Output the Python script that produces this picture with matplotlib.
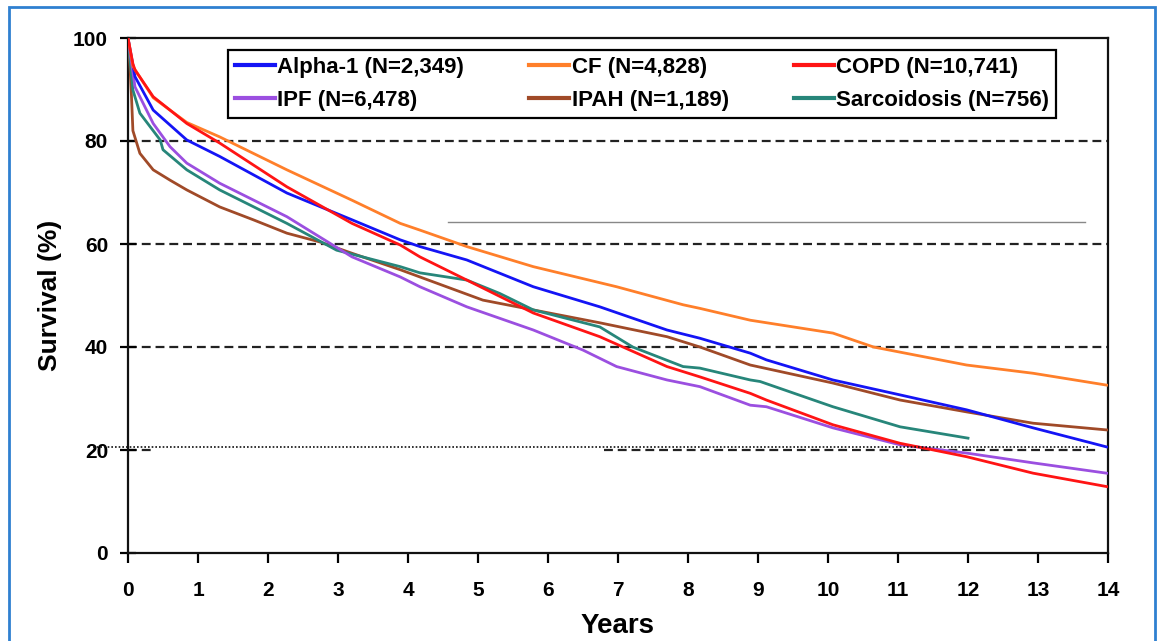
import matplotlib
matplotlib.use("Agg")
import matplotlib.pyplot as plt
from matplotlib.patches import Rectangle
from matplotlib.lines import Line2D

# ---- data ----
alpha_x = [0, 0.1, 0.36, 0.84, 1.31, 2.27, 3.2, 3.89, 4.17, 4.84, 5.79, 6.74, 7.7, 8.17, 8.89, 9.12, 10.07, 11.03, 11.98, 12.93, 13.98]
alpha_y = [100, 92.5, 86, 80.2, 77, 69.9, 64.7, 60.8, 59.5, 56.9, 51.7, 47.8, 43.3, 41.7, 38.8, 37.5, 33.6, 30.7, 27.8, 24.3, 20.6]

cf_x = [0, 0.07, 0.36, 0.84, 1.31, 2.27, 3.2, 3.89, 4.17, 4.84, 5.79, 6.98, 7.93, 8.17, 8.89, 10.07, 10.65, 11.98, 12.93, 13.98]
cf_y = [100, 94.5, 88.4, 83.6, 80.8, 74.4, 68.5, 64, 62.7, 59.5, 55.6, 51.7, 48.2, 47.5, 45.2, 42.7, 40, 36.5, 34.9, 32.6]

copd_x = [0, 0.07, 0.1, 0.36, 0.84, 1.31, 2.27, 3.2, 3.89, 4.17, 4.84, 5.79, 6.74, 7.7, 8.17, 8.89, 9.12, 10.07, 11.03, 11.98, 12.93, 13.98]
copd_y = [100, 95, 93.8, 88.6, 83.4, 79.6, 71.1, 64, 59.8, 57.5, 53, 46.6, 42, 36.2, 34.2, 31, 29.7, 24.9, 21.3, 18.7, 15.5, 12.9]

ipf_x = [0, 0.1, 0.36, 0.6, 0.84, 1.31, 2.27, 3.2, 3.89, 4.17, 4.84, 5.79, 6.5, 6.98, 7.7, 8.17, 8.89, 9.12, 10.07, 11.03, 11.98, 12.93, 13.98]
ipf_y = [100, 90.5, 83.4, 78.9, 75.7, 71.8, 65.3, 57.5, 53.6, 51.7, 47.8, 43.3, 39.4, 36.2, 33.6, 32.3, 28.7, 28.4, 24.3, 21, 19.4, 17.5, 15.5]

ipah_x = [0, 0.03, 0.05, 0.07, 0.17, 0.36, 0.6, 0.84, 1.31, 1.79, 2.27, 2.74, 3.2, 3.89, 4.17, 5.07, 5.79, 6.74, 7.7, 8.17, 8.89, 10.07, 11.03, 11.98, 12.93, 13.98]
ipah_y = [100, 94, 88.6, 82, 77.6, 74.4, 72.4, 70.5, 67.2, 64.7, 62.1, 60.4, 58.2, 55, 53.6, 49.1, 47.2, 44.7, 42, 40, 36.5, 33, 29.7, 27.4, 25.2, 23.9]

sarc_x = [0, 0.07, 0.17, 0.46, 0.5, 0.84, 1.31, 2.27, 2.98, 3.89, 4.17, 4.84, 5.31, 5.79, 6.74, 7.21, 7.93, 8.17, 8.89, 9.03, 10.07, 11.03, 12.0]
sarc_y = [100, 89.9, 85.4, 80.2, 78.3, 74.4, 70.5, 64, 58.8, 55.6, 54.4, 53, 50.4, 47.2, 43.9, 40, 36.2, 35.9, 33.6, 33.3, 28.4, 24.5, 22.3]

labels = ["Alpha-1 (N=2,349)", "CF (N=4,828)", "COPD (N=10,741)",
          "IPF (N=6,478)", "IPAH (N=1,189)", "Sarcoidosis (N=756)"]
colors = ["#1414f5", "#ff7f2a", "#ff1414", "#9b4fe0", "#a04a28", "#27867a"]
series_x = [alpha_x, cf_x, copd_x, ipf_x, ipah_x, sarc_x]
series_y = [alpha_y, cf_y, copd_y, ipf_y, ipah_y, sarc_y]

xticks = list(range(0, 15))
yticks = [0, 20, 40, 60, 80, 100]

plt.rcParams['font.family'] = ['Liberation Sans', 'DejaVu Sans']
plt.rcParams['font.weight'] = 'bold'

fig = plt.figure(figsize=(11.62, 6.41), dpi=100)
W, H = 1162, 641
ax = fig.add_axes([128 / W, 1 - 553 / H, (1108 - 128) / W, (553 - 38) / H])

# grid lines
grid_kw = dict(color="#222222", lw=1.6, ls=(0, (4, 2.2)), zorder=1)
for g in [40, 60, 80]:
    ax.axhline(g, **grid_kw)
ax.plot([0, 0.33], [20, 20], **grid_kw)
ax.plot([6.8, 13.87], [20, 20], **grid_kw)

# series
order = [0, 3, 1, 4, 2, 5]
handles = {}
for i in [4, 5, 3, 0, 1, 2]:
    h, = ax.plot(series_x[i], series_y[i], color=colors[i], lw=2.0, label=labels[i], zorder=3)
    handles[i] = h

ax.set_xlim(0, 14)
ax.set_ylim(0, 100)
ax.set_xticks(xticks)
ax.set_yticks(yticks)
ax.tick_params(axis='x', direction='out', length=7.2, width=1.6, labelsize=15, pad=13)
ax.tick_params(axis='y', direction='inout', length=11.5, width=1.6, labelsize=15, pad=8.6)
for lab in ax.get_xticklabels() + ax.get_yticklabels():
    lab.set_fontweight('bold')
for s in ax.spines.values():
    s.set_linewidth(1.6)
    s.set_color("#111111")

ax.set_xlabel("Years", fontsize=20, fontweight='bold', labelpad=9)
ax.set_ylabel("Survival (%)", fontsize=19, fontweight='bold', labelpad=8)

leg = ax.legend([handles[i] for i in order], [labels[i] for i in order],
                ncol=3, loc='upper left', bbox_to_anchor=((228 - 128) / 980, 1 - (50 - 38) / 515),
                frameon=True, fancybox=False, edgecolor='black', framealpha=1,
                handlelength=1.8, handletextpad=0.1, columnspacing=2.95,
                borderpad=0.3, labelspacing=0.55, borderaxespad=0,
                prop={'family': ['Liberation Sans', 'DejaVu Sans'], 'weight': 'bold', 'size': 16})
leg.get_frame().set_linewidth(1.6)
for lh in leg.legend_handles:
    lh.set_linewidth(3)

# artifacts present in the reference image
fig.add_artist(Line2D([448 / W, 1085 / W], [1 - 222 / H, 1 - 222 / H], color="#888888", lw=1.0))
fig.add_artist(Line2D([93 / W, 1088 / W], [1 - 447 / H, 1 - 447 / H], color="#111111", lw=1.2, ls=(0, (1, 1.2))))

# blue frame
fig.add_artist(Rectangle((9 / W, -0.02), (1155 - 9) / W, 1 - 7 / H + 0.02, transform=fig.transFigure,
                         fill=False, edgecolor="#2f80d0", lw=2.0))

fig.savefig("out.png", dpi=100)
